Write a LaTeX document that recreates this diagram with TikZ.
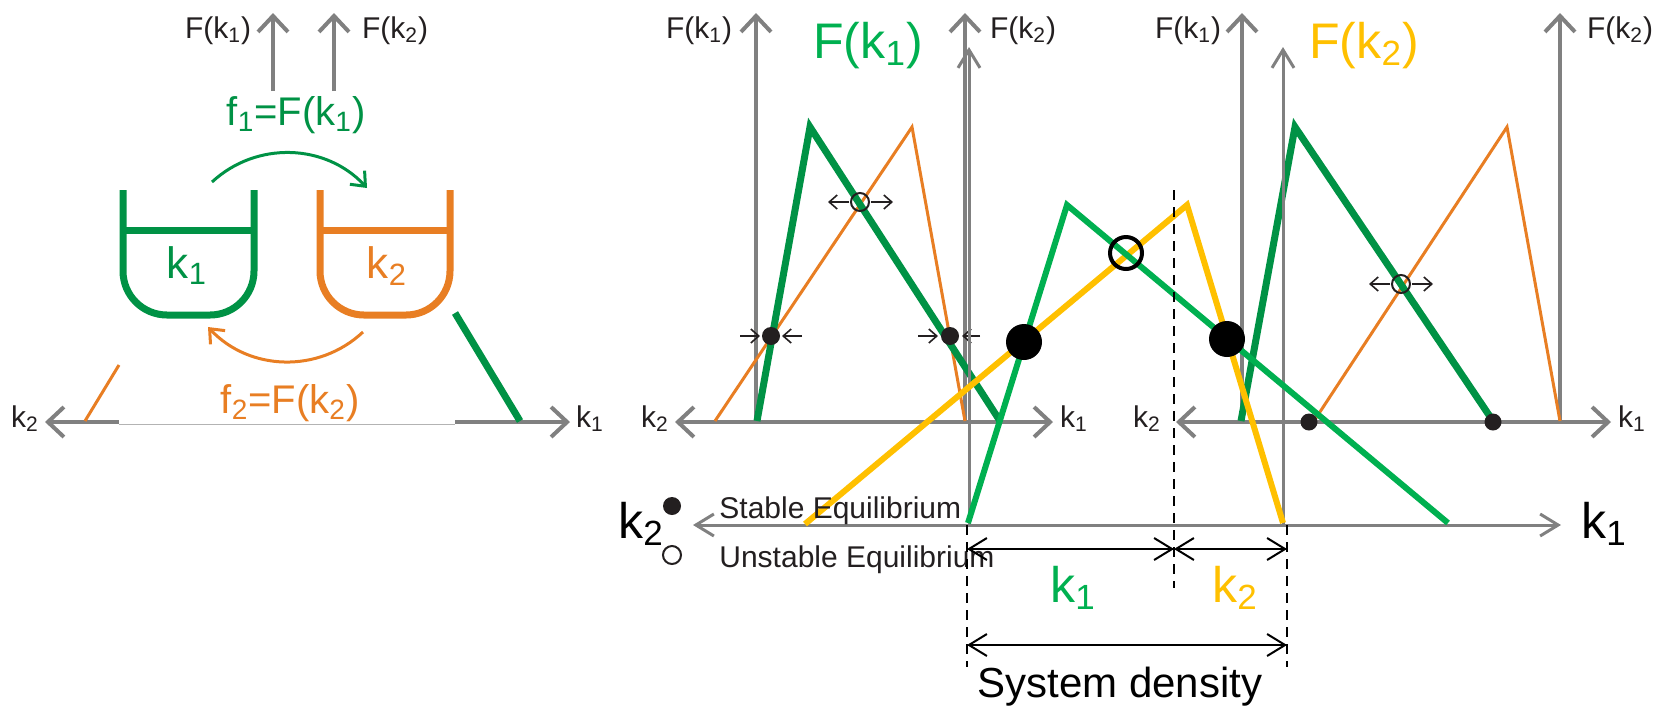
\documentclass[tikz,border=0pt]{standalone}
\usepackage{fontspec}
\setmainfont{Liberation Sans}
\usetikzlibrary{arrows.meta}
\definecolor{axisgray}{RGB}{128,128,128}
\definecolor{dkgreen}{RGB}{0,146,69}
\definecolor{ltgreen}{RGB}{0,176,80}
\definecolor{orng}{RGB}{232,126,35}
\definecolor{yllw}{RGB}{255,192,0}
\definecolor{ink}{RGB}{35,31,32}
\tikzset{
  gbarb/.tip={Straight Barb[length=8pt,width=15pt]},
  sbarb/.tip={Straight Barb[length=6pt,width=10pt]},
  dbarb/.tip={Straight Barb[length=9pt,width=11pt]},
  tbarb/.tip={Straight Barb[length=4pt,width=7pt]},
  axis/.style={axisgray, line width=2pt, -gbarb},
  axisb/.style={axisgray, line width=2pt, gbarb-gbarb},
  bigaxis/.style={axisgray, line width=1.5pt, -dbarb},
  bigaxisb/.style={axisgray, line width=1.5pt, dbarb-dbarb},
  fthick/.style={dkgreen, line width=3.5pt},
  fthin/.style={orng, line width=1.5pt},
  beaker/.style={line width=3.5pt, rounded corners=22pt},
  pull/.style={ink, line width=0.8pt, -tbarb},
  dim/.style={black, line width=1pt, dbarb-dbarb},
  guide/.style={black, line width=1.3pt, dash pattern=on 5pt off 3.5pt},
  flabel/.style={text=ink, anchor=base, inner sep=0pt, font=\fontsize{15}{17}\selectfont},
  klabel/.style={text=ink, anchor=base, inner sep=0pt, font=\fontsize{15}{17}\selectfont},
  biglabel/.style={anchor=base, inner sep=0pt, font=\fontsize{25}{28}\selectfont},
}
\begin{document}
\begin{tikzpicture}[x=0.5pt, y=-0.5pt]
    \useasboundingbox (0,0) rectangle (1671,709);
    % Left panel: axes cut by the beaker sketch
    \draw[axis] (273,91) -- (273,13);
    \draw[axis] (334,91) -- (334,13);
    \draw[axis] (119,422) -- (45,422);
    \draw[axis] (455,422) -- (570,422);
    \draw[axisgray!60, line width=0.5pt] (119,424) -- (455,424);
    \draw[fthin] (85,421) -- (119,365);
    \draw[fthick] (455,313) -- (520,421);
    \node[flabel] (lF1) at (218,38) {F(k\textsubscript{1})};
    \node[flabel] (lF2) at (395,38) {F(k\textsubscript{2})};
    \node[klabel] (lk2) at (25,427) {k\textsubscript{2}};
    \node[klabel] (lk1) at (590,427) {k\textsubscript{1}};
    % Left panel: the two beakers
    \draw[beaker, dkgreen] (123,190) -- (123,315) -- (254,315) -- (254,190);
    \draw[dkgreen, line width=3.5pt] (123,230) -- (254,230);
    \draw[beaker, orng] (320,190) -- (320,315) -- (450,315) -- (450,190);
    \draw[orng, line width=3.5pt] (320,230) -- (450,230);
    \node[biglabel, text=dkgreen, font=\fontsize{22}{24}\selectfont] (bk1) at (187,278) {k\textsubscript{1}};
    \node[biglabel, text=orng, font=\fontsize{22}{24}\selectfont] (bk2) at (387,278) {k\textsubscript{2}};
    % Left panel: flows
    \coordinate (g1) at (212,182);
    \coordinate (g2) at (367,188);
    \coordinate (o1) at (363,332);
    \coordinate (o2) at (208,327);
    \draw[dkgreen, line width=1.5pt, -sbarb] (g1) to[bend left=45] (g2);
    \draw[orng, line width=1.5pt, -sbarb] (o1) to[bend left=45] (o2);
    \node[biglabel, text=dkgreen, font=\fontsize{20}{22}\selectfont] (f1) at (296,125) {f\textsubscript{1}=F(k\textsubscript{1})};
    \node[biglabel, text=orng, font=\fontsize{20}{22}\selectfont] (f2) at (290,413) {f\textsubscript{2}=F(k\textsubscript{2})};
    % Middle panel
    \draw[axis] (756,422) -- (756,13);
    \draw[axis] (965,422) -- (965,13);
    \draw[axisb] (675,422) -- (1053,422);
    \draw[fthin] (715,421) -- (912,127) -- (965,421);
    \draw[fthick] (757,421) -- (810,127) -- (1000,421);
    \node[flabel] (mF1) at (699,38) {F(k\textsubscript{1})};
    \node[flabel] (mF2) at (1023,38) {F(k\textsubscript{2})};
    \node[klabel] (mk2) at (655,427) {k\textsubscript{2}};
    \node[klabel] (mk1) at (1074,427) {k\textsubscript{1}};
    \fill[ink] (771,336) circle (9);
    \fill[ink] (950,336) circle (9);
    \draw[pull] (740,336) -- (760,336);
    \draw[pull] (802,336) -- (782,336);
    \draw[pull] (918,336) -- (938,336);
    \draw[pull] (980,336) -- (962,336);
    \draw[ink, line width=1pt] (860,202) circle (9);
    \draw[pull] (849,202) -- (828,202);
    \draw[pull] (871,202) -- (893,202);
    % Right panel
    \draw[axis] (1242,422) -- (1242,13);
    \draw[axis] (1560,422) -- (1560,13);
    \draw[axisb] (1176,422) -- (1611,422);
    \draw[fthin] (1314,421) -- (1507,127) -- (1560,421);
    \draw[fthick] (1241,421) -- (1295,127) -- (1493,421);
    \node[flabel] (rF1) at (1188,38) {F(k\textsubscript{1})};
    \node[flabel] (rF2) at (1620,38) {F(k\textsubscript{2})};
    \node[klabel] (rk2) at (1147,427) {k\textsubscript{2}};
    \node[klabel] (rk1) at (1632,427) {k\textsubscript{1}};
    \draw[ink, line width=1pt] (1401,284) circle (9);
    \draw[pull] (1390,284) -- (1369,284);
    \draw[pull] (1412,284) -- (1433,284);
    % Combined plot
    \draw[bigaxis] (969,525) -- (969,47);
    \draw[bigaxis] (1283,525) -- (1283,47);
    \draw[bigaxisb] (693,525) -- (1561,525);
    \draw[yllw, line width=3pt] (805,524) -- (1187,205) -- (1283,523);
    \draw[ltgreen, line width=3pt] (968,523) -- (1067,205) -- (1448,523);
    \fill[ink] (1309,422) circle (8.5);
    \fill[ink] (1493,422) circle (8.5);
    \fill[black] (1024,342) circle (18);
    \fill[black] (1227,339) circle (18);
    \draw[black, line width=2pt] (1126,253) circle (16);
    \node[biglabel, text=ltgreen] (F1) at (868,58) {F(k\textsubscript{1})};
    \node[biglabel, text=yllw] (F2) at (1364,58) {F(k\textsubscript{2})};
    \node[biglabel] (k2) at (641,538) {k\textsubscript{2}};
    \node[biglabel] (k1) at (1604,538) {k\textsubscript{1}};
    % Legend
    \fill[ink] (672,506) circle (9);
    \draw[ink, line width=1pt] (672,555) circle (9);
    \node[text=ink, anchor=base west, inner sep=0pt, font=\fontsize{15}{17}\selectfont] (stable) at (719,518) {Stable Equilibrium};
    \node[text=ink, anchor=base west, inner sep=0pt, font=\fontsize{15}{17}\selectfont] (unstable) at (719,567) {Unstable Equilibrium};
    % Densities
    \draw[guide] (967,525) -- (967,667);
    \draw[guide] (1287,525) -- (1287,667);
    \draw[guide] (1174,190) -- (1174,588);
    \coordinate (d0) at (967,549);
    \coordinate (d1) at (1174,549);
    \coordinate (d2) at (1287,549);
    \coordinate (s0) at (967,645);
    \coordinate (s1) at (1287,645);
    \draw[dim] (d0) -- (d1);
    \draw[dim] (d1) -- (d2);
    \draw[dim] (s0) -- (s1);
    \node[biglabel, text=ltgreen] (dk1) at (1073,602) {k\textsubscript{1}};
    \node[biglabel, text=yllw] (dk2) at (1235,602) {k\textsubscript{2}};
    \node[biglabel, font=\fontsize{21}{24}\selectfont] (density) at (1120,697) {System density};
\end{tikzpicture}
\end{document}
